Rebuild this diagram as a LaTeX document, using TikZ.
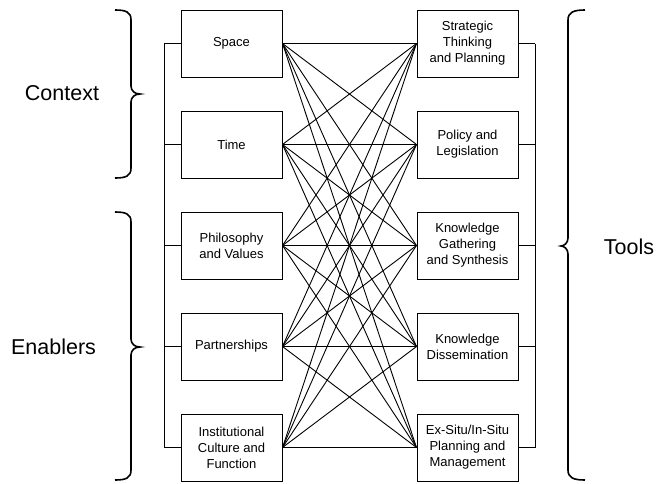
\documentclass[tikz,border=0pt]{standalone}
\usepackage{fontspec}
\setmainfont{Liberation Sans}
\begin{document}
\begin{tikzpicture}[x=1pt,y=-1pt,
  box/.style={draw=black,line width=1pt,minimum width=101pt,minimum height=67pt,inner sep=2pt,align=center,font=\fontsize{13}{16}\selectfont},
  link/.style={draw=black,line width=0.9pt},
  brace/.style={draw=black,line width=1.6pt},
  biglabel/.style={font=\fontsize{21.5}{24}\selectfont}]
\useasboundingbox (0,0) rectangle (657,483);
% left column
\node[box] (L1) at (231.5,43.5) {Space};
\node[box] (L2) at (231.5,144.5) {Time};
\node[box] (L3) at (231.5,245.5) {Philosophy\\and Values};
\node[box] (L4) at (231.5,346.5) {Partnerships};
\node[box] (L5) at (231.5,447.5) {Institutional\\Culture and\\Function};
% right column
\node[box] (R1) at (467.5,43.5) {Strategic\\Thinking\\and Planning};
\node[box] (R2) at (467.5,144.5) {Policy and\\Legislation};
\node[box] (R3) at (467.5,245.5) {Knowledge\\Gathering\\and Synthesis};
\node[box] (R4) at (467.5,346.5) {Knowledge\\Dissemination};
\node[box] (R5) at (467.5,447.5) {Ex-Situ/In-Situ\\Planning and\\Management};
% buses
\foreach \i/\y in {1/43.5,2/144.5,3/245.5,4/346.5,5/447.5}{
  \coordinate (BL\i) at (164,\y);
  \coordinate (BR\i) at (535,\y);
  \draw[link] (L\i.west) -- (BL\i);
  \draw[link] (R\i.east) -- (BR\i);
}
\draw[link] (BL1) -- (BL5);
\draw[link] (BR1) -- (BR5);
% all connections
\foreach \i in {1,...,5}{
  \foreach \j in {1,...,5}{
    \draw[link] (L\i.east) -- (R\j.west);
  }
}
% braces
\draw[brace] (115,10) .. controls (126,10) and (131,12) .. (131,20) -- (131,86) .. controls (131,91) and (135,94) .. (140,94) .. controls (135,94) and (131,97) .. (131,102) -- (131,168) .. controls (131,176) and (126,178) .. (115,178);
\draw[brace] (115,212) .. controls (126,212) and (131,214) .. (131,222) -- (131,339) .. controls (131,344) and (135,347) .. (140,347) .. controls (135,347) and (131,350) .. (131,355) -- (131,470) .. controls (131,478) and (126,480) .. (115,480);
\draw[brace] (585,10) .. controls (574,10) and (568,12) .. (568,20) -- (568,238) .. controls (568,243) and (564,246) .. (561,246) .. controls (564,246) and (568,249) .. (568,254) -- (568,470) .. controls (568,478) and (574,480) .. (585,480);
% labels
\node[biglabel] (context) at (62,93) {Context};
\node[biglabel] (enablers) at (53.5,347) {Enablers};
\node[biglabel] (tools) at (629,247) {Tools};
\end{tikzpicture}
\end{document}
